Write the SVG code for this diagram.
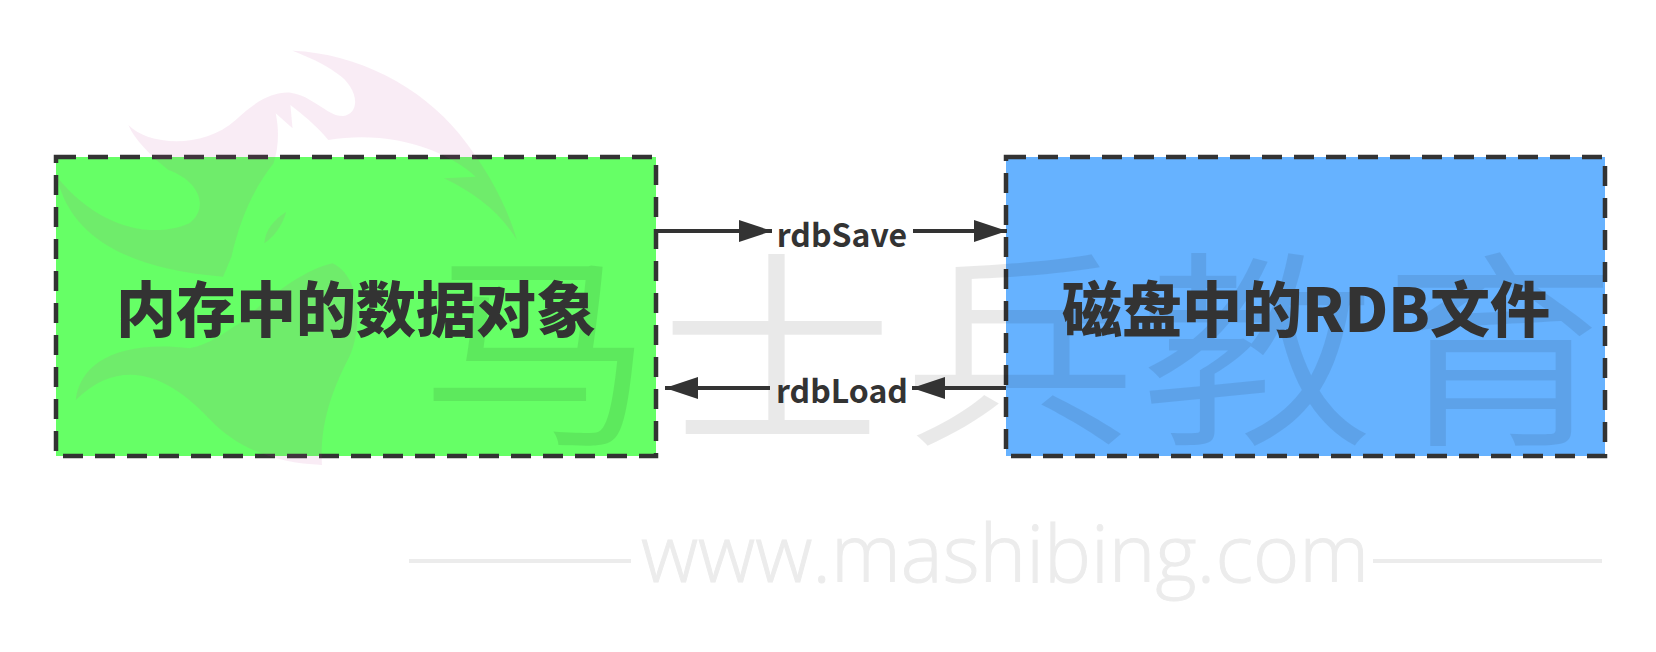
<svg xmlns="http://www.w3.org/2000/svg" width="1656" height="652" viewBox="0 0 1656 652">
<style>
.box{stroke:#333;stroke-width:4.5;stroke-dasharray:20 12}
.title{font-family:"Noto Sans CJK SC","Noto Sans",sans-serif;font-weight:900;font-size:60px;fill:#333;text-anchor:middle}
.label{font-family:"Noto Sans CJK SC","Noto Sans",sans-serif;font-weight:700;font-size:32px;fill:#333;text-anchor:middle}
.wm{font-family:"Noto Sans CJK SC",sans-serif;font-size:225px;font-weight:350;fill:#000;fill-opacity:.085}
.wmu{font-family:"Open Sans",sans-serif;font-weight:300;font-size:79px;fill:#ececec;stroke:#ececec;stroke-width:1;text-anchor:middle}
.conn{stroke:#333;stroke-width:4;fill:none}
</style>
<defs>
<marker id="a" markerUnits="userSpaceOnUse" markerWidth="34" markerHeight="24" refX="33" refY="11" orient="auto"><path d="M0,0L33,11L0,22Z" fill="#333"/></marker>
</defs>
<rect width="1656" height="652" fill="#fff"/>
<g id="node-memory"><rect class="box" x="56" y="157" width="600" height="299" fill="#66ff66"/></g>
<g id="node-disk"><rect class="box" x="1006" y="157" width="599" height="299" fill="#66b2ff"/></g>
<g id="watermark">
<g transform="translate(0,30) scale(.4209,.3333)" fill="#c040a0" fill-opacity=".1">
<path d="M305,285C350,345 480,360 560,270C610,210 650,185 690,188C740,195 780,260 815,258C860,250 850,170 800,130C770,100 730,80 695,62C850,70 1000,170 1090,310C1160,420 1205,530 1228,630C1190,550 1130,490 1055,445L1130,440C1060,360 930,300 780,330C750,285 720,255 690,225L695,295L655,250C665,310 660,360 650,400C600,480 570,570 550,680L530,740C330,720 170,640 135,440C230,590 360,630 450,580C500,530 470,450 400,420C360,380 320,330 305,285Z"/>
<path d="M680,545C670,590 650,620 628,640C630,600 650,570 680,545Z"/>
<path d="M180,1110C190,1000 280,930 450,955C500,945 540,900 570,880C640,800 720,720 790,700C860,740 860,900 830,980C780,1100 760,1200 765,1305C650,1300 560,1250 500,1170C420,1060 300,960 180,1110Z"/>
</g>
<text class="wm" transform="translate(420,429) scale(1.04,.93)">马</text>
<text class="wm" transform="translate(660,429) scale(1.04,.93)">士</text>
<text class="wm" transform="translate(903,429) scale(1.04,.93)">兵</text>
<text class="wm" transform="translate(1140,429) scale(1.04,.93)">教</text>
<text class="wm" transform="translate(1383,429) scale(1.04,.93)">育</text>
<rect x="409" y="559" width="222" height="4" fill="#ececec"/>
<rect x="1373" y="559" width="229" height="4" fill="#ececec"/>
<text class="wmu" x="1005" y="582">www.mashibing.com</text>
</g>
<g id="connectors">
<path class="conn" d="M656,231H772" marker-end="url(#a)"/>
<path class="conn" d="M913,231H1007" marker-end="url(#a)"/>
<path class="conn" d="M1006,388H912" marker-end="url(#a)"/>
<path class="conn" d="M770,388H665" marker-end="url(#a)"/>
</g>
<g id="labels">
<text class="title" x="356" y="332">内存中的数据对象</text>
<text class="title" x="1306" y="332">磁盘中的RDB文件</text>
<text class="label" x="842" y="247">rdbSave</text>
<text class="label" x="842" y="403">rdbLoad</text>
</g>
</svg>
